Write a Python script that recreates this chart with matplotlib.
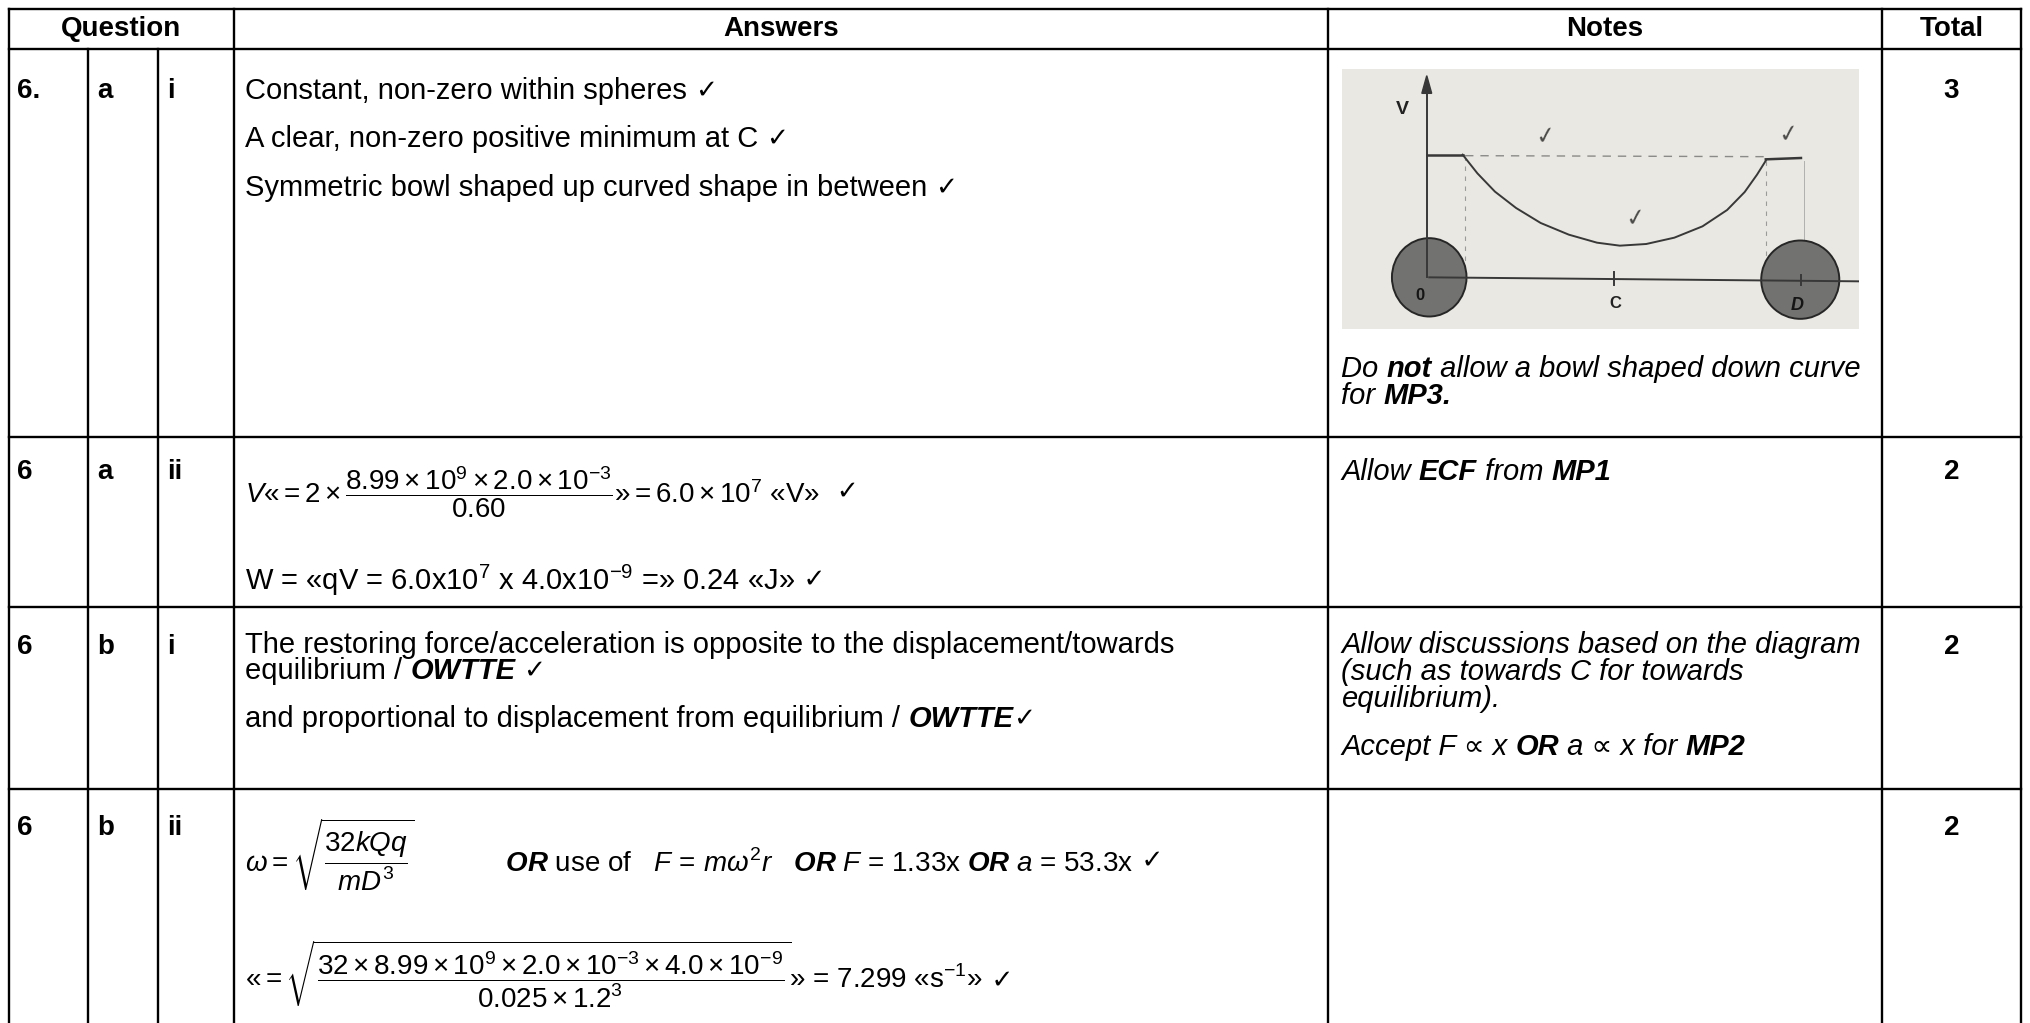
import matplotlib
matplotlib.use("Agg")
import matplotlib.pyplot as plt
from matplotlib.patches import Ellipse, Polygon

plt.rcParams['font.family'] = ['Liberation Sans', 'DejaVu Sans']
plt.rcParams['mathtext.fontset'] = 'custom'
plt.rcParams['mathtext.rm'] = 'Liberation Sans'
plt.rcParams['mathtext.it'] = 'Liberation Sans:italic'
plt.rcParams['mathtext.bf'] = 'Liberation Sans:bold'
plt.rcParams['mathtext.bfit'] = 'Liberation Sans:italic:bold'

# table content
headers = ["Question", "Answers", "Notes", "Total"]
q_num = ["6.", "6", "6", "6"]
q_part = ["a", "a", "b", "b"]
q_sub = ["i", "ii", "i", "ii"]
totals = ["3", "2", "2", "2"]

N, B = 'normal', 'bold'
R, I = 'normal', 'italic'
TICK = "\u2713"

ans_6ai = [[("Constant, non-zero within spheres ", N, R), (TICK, 'tick', R)],
           [("A clear, non-zero positive minimum at C ", N, R), (TICK, 'tick', R)],
           [("Symmetric bowl shaped up curved shape in between ", N, R), (TICK, 'tick', R)]]
ans_6aii = [r"$V$«$= 2\times\dfrac{8.99\times10^{9}\times2.0\times10^{-3}}{0.60}$»$ = 6.0\times10^{7}$ «V»",
            r"W = «qV = 6.0x10$^{7}$ x 4.0x10$^{-9}$ =» 0.24 «J»"]
ans_6bi = [[("The restoring force/acceleration is opposite to the displacement/towards", N, R)],
           [("equilibrium / ", N, R), ("OWTTE", B, I), (" ", N, R), (TICK, 'tick', R)],
           [("and proportional to displacement from equilibrium / ", N, R), ("OWTTE", B, I), (TICK, 'tick', R)]]
ans_6bii = [r"$\omega = \sqrt{\dfrac{32kQq}{mD^{3}}}$            $\mathbfit{OR}$ use of   $F\,=\,m\omega^{2}r$   "
            r"$\mathbfit{OR}$ $F$ = 1.33x $\mathbfit{OR}$ $a$ = 53.3x",
            r"«$= \sqrt{\dfrac{32\times8.99\times10^{9}\times2.0\times10^{-3}\times4.0\times10^{-9}}"
            r"{0.025\times1.2^{3}}}$» = 7.299 «s$^{-1}$»"]

notes_6ai = [[("Do ", N, I), ("not", B, I), (" allow a bowl shaped down curve", N, I)],
             [("for ", N, I), ("MP3.", B, I)]]
notes_6aii = [[("Allow ", N, I), ("ECF", B, I), (" from ", N, I), ("MP1", B, I)]]
notes_6bi = [[("Allow discussions based on the diagram", N, I)],
             [("(such as towards C for towards", N, I)],
             [("equilibrium).", N, I)],
             [("Accept F \u221d x ", N, I), ("OR", B, I), (" a \u221d x for ", N, I), ("MP2", B, I)]]

# sketch in the notes photo (pixel units of the photo)
bowl_x = [378, 420, 470, 530, 600, 680, 760, 825, 900, 980, 1060, 1130, 1180, 1215, 1240]
bowl_y = [312, 368, 423, 472, 517, 552, 576, 585, 580, 561, 527, 478, 424, 372, 330]

W, H = 2031, 1023
FS = 21
FM = 20
FT = 19
col_x = [9, 88, 158, 234, 1328, 1882, 2021]
row_y = [9, 49, 437, 607, 789]

fig = plt.figure(figsize=(W / 100, H / 100), dpi=100)
ax = fig.add_axes([0, 0, 1, 1])
ax.set_xlim(0, W)
ax.set_ylim(H, 0)
ax.axis('off')

lw = 1.7
for y in row_y:
    ax.plot([col_x[0], col_x[-1]], [y, y], color='black', lw=lw, solid_capstyle='projecting')
for i, x in enumerate(col_x):
    top = row_y[1] if i in (1, 2) else row_y[0]
    ax.plot([x, x], [top, H], color='black', lw=lw, solid_capstyle='projecting')

hdr_y = (row_y[0] + row_y[1]) / 2
hdr_x = [(col_x[0] + col_x[3]) / 2, (col_x[3] + col_x[4]) / 2,
         (col_x[4] + col_x[5]) / 2, (col_x[5] + col_x[6]) / 2]
for x, h in zip(hdr_x, headers):
    ax.text(x, hdr_y, h, ha='center', va='center', fontsize=FS - 1, fontweight='bold')


def chain(x, y, parts, size=FS):
    prev = None
    for s, weight, style in parts:
        if weight == 'tick':
            prev = ax.annotate(s, xy=(1, 0.5), xycoords=prev, ha='left', va='center',
                               fontsize=FT, family='DejaVu Sans')
            continue
        kw = dict(fontsize=size, fontweight=weight, fontstyle=style)
        if prev is None:
            prev = ax.text(x, y, s, ha='left', va='center', **kw)
        else:
            prev = ax.annotate(s, xy=(1, 0), xycoords=prev, ha='left', va='bottom', **kw)
    return prev


def tick_after(artist, gap=" ", frac=0.5):
    ax.annotate(gap + TICK, xy=(1, frac), xycoords=artist, ha='left', va='center',
                fontsize=FT, family='DejaVu Sans')


first_y = [91, 472, 647, 828]
for k in range(4):
    y = first_y[k]
    ax.text(col_x[0] + 8, y, q_num[k], ha='left', va='center', fontsize=FS - 1, fontweight='bold')
    ax.text(col_x[1] + 9, y, q_part[k], ha='left', va='center', fontsize=FS - 1, fontweight='bold')
    ax.text(col_x[2] + 9, y, q_sub[k], ha='left', va='center', fontsize=FS - 1, fontweight='bold')
    ax.text((col_x[5] + col_x[6]) / 2, y, totals[k], ha='center', va='center',
            fontsize=FS - 1, fontweight='bold')

ax_x = col_x[3] + 11
note_x = col_x[4] + 13

for y, parts in zip([91, 139, 188], ans_6ai):
    chain(ax_x, y, parts)

t = ax.text(ax_x, 492, ans_6aii[0], ha='left', va='center', fontsize=FM)
tick_after(t, "  ")
t = ax.text(ax_x, 580, ans_6aii[1], ha='left', va='center', fontsize=FS)
tick_after(t)

for y, parts in zip([645, 671, 719], ans_6bi):
    chain(ax_x, y, parts)

t = ax.text(ax_x, 855, ans_6bii[0], ha='left', va='center', fontsize=FM)
tick_after(t, frac=0.42)
t = ax.text(ax_x, 974, ans_6bii[1], ha='left', va='center', fontsize=FM)
tick_after(t, frac=0.4)

for y, parts in zip([369, 396], notes_6ai):
    chain(note_x, y, parts)
for y, parts in zip([472], notes_6aii):
    chain(note_x, y, parts)
for y, parts in zip([645, 672, 699, 747], notes_6bi):
    chain(note_x, y, parts)

# photo of the hand-drawn sketch
px0, py0, px1, py1 = 1342, 69, 1859, 329
pa = fig.add_axes([px0 / W, 1 - py1 / H, (px1 - px0) / W, (py1 - py0) / H])
pa.set_xlim(35, 1505)
pa.set_ylim(835, 55)
pa.set_facecolor('#eae8e2')
pa.set_xticks([])
pa.set_yticks([])
for sp in pa.spines.values():
    sp.set_visible(False)

ink = '#383838'
pa.add_patch(Ellipse((283, 680), 212, 235, facecolor='#727270', edgecolor='#262626', lw=1.4, zorder=2))
pa.add_patch(Ellipse((1338, 687), 222, 235, facecolor='#727270', edgecolor='#262626', lw=1.4, zorder=2))
pa.plot([283, 1505], [680, 692], color=ink, lw=1.4, zorder=3)
pa.plot([276, 276], [680, 120], color=ink, lw=1.4, zorder=3)
pa.add_patch(Polygon([[262, 128], [290, 128], [276, 75]], closed=True, color=ink, zorder=3))
pa.plot([276, 378], [312, 312], color=ink, lw=1.8, zorder=3)
pa.plot(bowl_x, bowl_y, color=ink, lw=1.4, zorder=3)
pa.plot([1240, 1340], [326, 322], color=ink, lw=1.8, zorder=3)
pa.plot([385, 1240], [315, 318], color='#8a8a88', lw=1.0, ls=(0, (6, 5)), zorder=1)
pa.plot([385, 385], [315, 680], color='#9a9a98', lw=0.8, ls=(0, (4, 5)), zorder=1)
pa.plot([1240, 1240], [330, 690], color='#9a9a98', lw=0.8, ls=(0, (4, 5)), zorder=1)
pa.plot([1348, 1348], [330, 580], color='#b0b0ae', lw=0.7, zorder=1)
pa.plot([808, 808], [665, 702], color=ink, lw=1.4, zorder=3)
pa.plot([1340, 1340], [672, 702], color=ink, lw=1.4, zorder=4)
pa.text(207, 178, "V", ha='center', va='center', fontsize=14, fontweight='bold', color='#222222')
pa.text(258, 735, "0", ha='center', va='center', fontsize=12, fontweight='bold', color='#151515', zorder=5)
pa.text(812, 760, "C", ha='center', va='center', fontsize=12, fontweight='bold', color='#222222')
pa.text(1330, 765, "D", ha='center', va='center', fontsize=13, fontweight='bold',
        fontstyle='italic', color='#151515', zorder=5)
for cx, cy in [(615, 255), (1305, 250), (870, 500)]:
    pa.text(cx, cy, TICK, ha='center', va='center', fontsize=17, color='#4a4a48',
            family='DejaVu Sans', rotation=8)

fig.savefig("out.png", dpi=100)
